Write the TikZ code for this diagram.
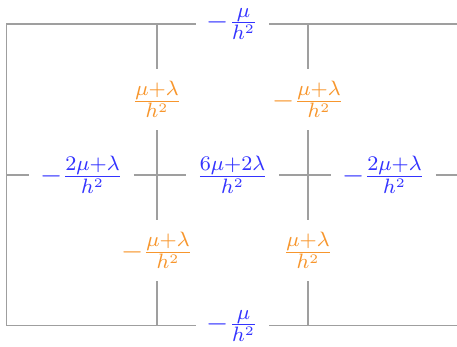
\documentclass[tikz,border=0pt]{standalone}
\usetikzlibrary{positioning}
\definecolor{coefblue}{RGB}{51,51,255}
\definecolor{coeforange}{RGB}{247,150,45}

\begin{document}
\begin{tikzpicture}[
    x=2.04cm, y=2.04cm,
    font=\fontsize{11}{13}\selectfont,
    grid/.style={draw=gray!75, line width=0.4pt},
    main/.style={text=coefblue, inner xsep=4pt, inner ysep=4.5pt},
    mixed/.style={text=coeforange, inner xsep=4pt, inner ysep=4.5pt}
]
\useasboundingbox (-0.04,-0.139) rectangle (2.987,2.159);
% grid ends
\coordinate (tl) at (0,2);
\coordinate (tm) at (1,2);
\coordinate (tn) at (2,2);
\coordinate (tr) at (3,2);
\coordinate (ml) at (0,1);
\coordinate (mr) at (3,1);
\coordinate (bl) at (0,0);
\coordinate (bm) at (1,0);
\coordinate (bn) at (2,0);
\coordinate (br) at (3,0);
% coefficients
\node[main] (top) at (1.5,2) {$-\frac{\mu}{h^2}$};
\node[main] (bot) at (1.5,0) {$-\frac{\mu}{h^2}$};
\node[main] (west) at (0.5,1) {$-\frac{2\mu+\lambda}{h^2}$};
\node[main] (centre) at (1.5,1) {$\frac{6\mu+2\lambda}{h^2}$};
\node[main] (east) at (2.5,1) {$-\frac{2\mu+\lambda}{h^2}$};
\node[mixed] (nw) at (1,1.5) {$\frac{\mu+\lambda}{h^2}$};
\node[mixed] (ne) at (2,1.5) {$-\frac{\mu+\lambda}{h^2}$};
\node[mixed] (sw) at (1,0.5) {$-\frac{\mu+\lambda}{h^2}$};
\node[mixed] (se) at (2,0.5) {$\frac{\mu+\lambda}{h^2}$};
% grid lines
\draw[grid] (bl) -- (tl);
\draw[grid] (tl) -- (top) -- (tr);
\draw[grid] (bl) -- (bot) -- (br);
\draw[grid] (ml) -- (west) -- (centre) -- (east) -- (mr);
\draw[grid] (tm) -- (nw) -- (sw) -- (bm);
\draw[grid] (tn) -- (ne) -- (se) -- (bn);
\end{tikzpicture}
\end{document}
